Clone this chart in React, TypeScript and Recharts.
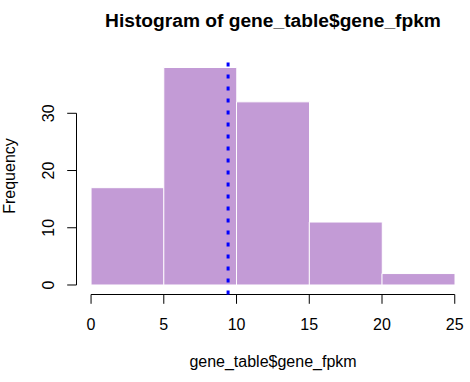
import React from 'react';
import { ComposedChart, Bar, XAxis, YAxis, ReferenceLine } from 'recharts';

const binStarts = [0, 5, 10, 15, 20];
const binEnds = [5, 10, 15, 20, 25];
const counts = [17, 38, 32, 11, 2];
const xTicks = [0, 5, 10, 15, 20, 25];
const yTicks = [0, 10, 20, 30];
const meanValue = 9.42;
const titleText = 'Histogram of gene_table$gene_fpkm';
const xLabelText = 'gene_table$gene_fpkm';
const yLabelText = 'Frequency';

const data = binStarts.map((s, i) => ({ mid: (s + binEnds[i]) / 2, count: counts[i] }));

const FONT = '"Liberation Sans", Arial, Helvetica, sans-serif';
const X_MIN = -1;
const X_MAX = 26;
const Y_MIN = -1.66;
const Y_MAX = 39.52;

const YTick = (props: any) => {
  const { x, y, payload } = props;
  return (
    <text
      x={x}
      y={y}
      transform={`rotate(-90 ${x} ${y})`}
      textAnchor="middle"
      fontSize={16}
      fill="#000"
      fontFamily={FONT}
    >
      {payload.value}
    </text>
  );
};

export default function App() {
  return (
    <div style={{ position: 'absolute', left: 0, top: 0, width: 470, height: 382, background: '#fff' }}>
      <ComposedChart
        width={470}
        height={382}
        data={data}
        margin={{ top: 58.8, right: 0.7, bottom: 0, left: 0 }}
        barCategoryGap={0}
        barGap={0}
      >
        <XAxis
          type="number"
          dataKey="mid"
          domain={[X_MIN, X_MAX]}
          ticks={xTicks}
          allowDataOverflow
          axisLine={false}
          tickLine={{ stroke: '#000', strokeWidth: 1 }}
          tickSize={9.3}
          tickMargin={14.6}
          height={87.5}
          tick={{ fill: '#000', fontSize: 16, fontFamily: FONT }}
          interval={0}
        />
        <YAxis
          type="number"
          domain={[Y_MIN, Y_MAX]}
          ticks={yTicks}
          allowDataOverflow
          axisLine={false}
          tickLine={{ stroke: '#000', strokeWidth: 1 }}
          tickSize={9.3}
          tickMargin={13}
          width={76.5}
          tick={<YTick />}
          interval={0}
        />
        <Bar dataKey="count" fill="#C39BD6" stroke="#ffffff" strokeWidth={1} isAnimationActive={false} />
        <ReferenceLine
          segment={[{ x: 0, y: Y_MIN }, { x: 25, y: Y_MIN }]}
          stroke="#000"
          strokeWidth={1}
          ifOverflow="visible"
        />
        <ReferenceLine
          segment={[{ x: X_MIN, y: 0 }, { x: X_MIN, y: 30 }]}
          stroke="#000"
          strokeWidth={1}
          ifOverflow="visible"
        />
        <ReferenceLine x={meanValue} stroke="#0000FF" strokeWidth={3} strokeDasharray="4 8" />
      </ComposedChart>
      <svg
        width={470}
        height={382}
        style={{ position: 'absolute', left: 0, top: 0, pointerEvents: 'none' }}
      >
        <text x={273} y={26.5} textAnchor="middle" fontSize={19.2} fontWeight="bold" fontFamily={FONT} fill="#000">
          {titleText}
        </text>
        <text x={273} y={367} textAnchor="middle" fontSize={16} fontFamily={FONT} fill="#000">
          {xLabelText}
        </text>
        <text
          x={15}
          y={176}
          transform="rotate(-90 15 176)"
          textAnchor="middle"
          fontSize={16}
          fontFamily={FONT}
          fill="#000"
        >
          {yLabelText}
        </text>
      </svg>
    </div>
  );
}
